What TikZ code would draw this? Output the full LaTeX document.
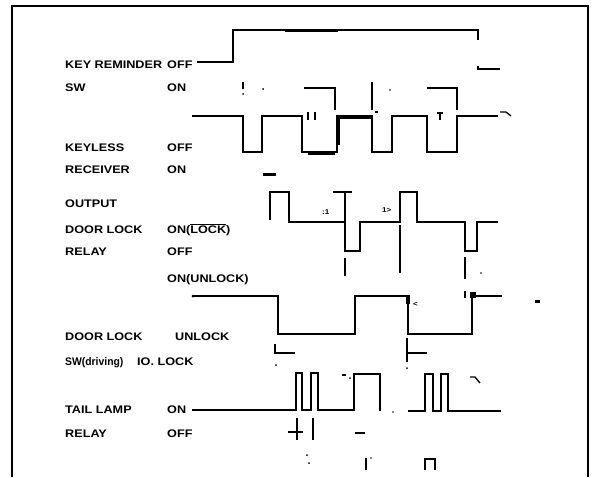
\documentclass[tikz,border=0pt]{standalone}
\usepackage{fontspec}
\newfontfamily\labfamily{Liberation Sans}[FakeStretch=1.15]
\newcommand{\labfont}{\labfamily\bfseries\fontsize{11}{13}\selectfont}
\newcommand{\tinyfont}{\labfamily\bfseries\fontsize{7}{8}\selectfont}
\begin{document}
\begin{tikzpicture}[x=1pt,y=-1pt,
  lab/.style={anchor=base west, inner sep=0pt, font=\labfont},
  tiny/.style={anchor=base west, inner sep=0pt, font=\tinyfont},
  wave/.style={line width=1.4pt, line join=miter},
  heavy/.style={line width=3pt},
  tick/.style={line width=1.3pt},
  frame/.style={line width=2pt}]
\useasboundingbox (0,0) rectangle (593,477);
% frame
\draw[frame] (12,477) -- (12,6) -- (588,6) -- (588,477);

% labels
\node[lab] (kr)  at (65,68)  {KEY REMINDER};
\node[lab] (kro) at (167,68) {OFF};
\node[lab] (sw)  at (65,91)  {SW};
\node[lab] (swo) at (167,91) {ON};
\node[lab] (kl)  at (65,151) {KEYLESS};
\node[lab] (klo) at (167,151){OFF};
\node[lab] (rc)  at (65,173) {RECEIVER};
\node[lab] (rco) at (167,173){ON};
\node[lab] (op)  at (65,207) {OUTPUT};
\node[lab] (dl)  at (65,233) {DOOR LOCK};
\node[lab] (dll) at (167,233){ON(\smash{$\overline{\mbox{\labfont LOCK}}$})};
\node[lab] (rl)  at (65,255) {RELAY};
\node[lab] (rlo) at (167,255){OFF};
\node[lab] (rlu) at (167,282){ON(UNLOCK)};
\node[lab] (ds)  at (65,340) {DOOR LOCK};
\node[lab] (dsu) at (175,340){UNLOCK};
\node[lab] (dsw) at (65,365) {\scalebox{0.82}[1]{SW(driving)}};
\node[lab] (dsl) at (137,365){IO. LOCK};
\node[lab] (tl)  at (65,413) {TAIL LAMP};
\node[lab] (tlo) at (167,413){ON};
\node[lab] (tr)  at (65,437) {RELAY};
\node[lab] (tro) at (167,437){OFF};

% key reminder waveform
\coordinate (k0) at (197,62);
\draw[wave] (k0) -- (233,62) -- (233,30) -- (478,30) -- (478,40);
\draw[heavy] (285,30) -- (338,30);
\draw[wave] (478,66) -- (478,69) -- (500,69);

% SW marks
\draw[tick] (243,82) -- (243,89);
\fill (243,94) circle (1pt);
\fill (263,89) circle (1pt);
\draw[wave] (304,88) -- (335,88) -- (335,110);
\draw[wave] (372,82) -- (372,110);
\fill (390,90) circle (0.9pt);
\draw[wave] (427,88) -- (457,88) -- (457,110);

% keyless receiver waveform
\coordinate (r0) at (192,116);
\draw[wave] (r0) -- (243,116) -- (243,152) -- (262,152) -- (262,116) -- (302,116)
  -- (302,152) -- (337,152) -- (337,116) -- (372,116) -- (372,152) -- (392,152)
  -- (392,116) -- (427,116) -- (427,152) -- (457,152) -- (457,116) -- (498,116);
\draw[heavy] (308,153) -- (335,153);
\draw[heavy] (337,117) -- (372,117);
\draw[heavy] (338,117) -- (338,145);
\draw[tick] (308,112) -- (308,120);
\draw[tick] (315,112) -- (315,120);
\draw[tick] (437,113) -- (443,113);
\draw[tick] (440,113) -- (440,120);
\draw[tick] (500,112) -- (506,112) -- (511,116);
\draw[tick] (375,112) -- (378,112);
\draw[heavy] (263,174) -- (276,174);

% door lock relay waveform
\coordinate (d0) at (270,220);
\draw[wave] (d0) -- (270,192) -- (289,192) -- (289,222) -- (345,222) -- (345,251)
  -- (360,251) -- (360,222) -- (400,222) -- (400,192) -- (417,192) -- (417,222)
  -- (465,222) -- (465,251) -- (477,251) -- (477,222) -- (498,222);
\draw[wave] (333,192) -- (352,192);
\draw[wave] (345,192) -- (345,222);
\node[tiny] at (322,214) {:1};
\node[tiny] at (382,212) {1>};
\draw[wave] (345,258) -- (345,276);
\draw[wave] (400,225) -- (400,273);
\draw[wave] (465,257) -- (465,279);
\fill (481,273) circle (0.9pt);

% door lock sw waveform
\fill (193,296) circle (1.5pt);
\draw[wave] (193,296) -- (278,296) -- (278,334) -- (355,334) -- (355,296) -- (408,296)
  -- (408,334) -- (472,334) -- (472,296) -- (502,296);
\fill (406,295) rectangle (410,304);
\fill (470,292) rectangle (476,298);
\node[tiny] at (413,306) {<};
\draw[tick] (465,291) -- (465,298);
\draw[heavy] (535,301) -- (540,301);
\draw[wave] (275,344) -- (275,353) -- (295,353);
\fill (276,365) circle (1pt);
\draw[wave] (407,338) -- (407,362);
\draw[wave] (407,353) -- (427,353);
\fill (407,368) circle (1pt);

% tail lamp relay waveform
\coordinate (t0) at (192,410);
\draw[wave] (t0) -- (296,410) -- (296,373) -- (302,373) -- (302,410) -- (311,410)
  -- (311,373) -- (318,373) -- (318,410) -- (354,410) -- (354,374) -- (380,374) -- (380,411);
\draw[wave] (408,411) -- (425,411) -- (425,374) -- (433,374) -- (433,411) -- (441,411)
  -- (441,374) -- (448,374) -- (448,411) -- (501,411);
\draw[tick] (342,375) -- (346,375);
\fill (350,378) circle (1pt);
\draw[tick] (470,377) -- (475,377) -- (480,383);
\fill (393,412) circle (0.9pt);
\draw[wave] (288,432) -- (303,432);
\draw[wave] (297,418) -- (297,440);
\draw[wave] (313,418) -- (313,440);
\draw[wave] (355,433) -- (365,433);
% bottom marks
\fill (307,455) circle (1pt);
\fill (309,463) circle (1pt);
\draw[wave] (366,458) -- (366,470);
\fill (371,458) circle (0.9pt);
\draw[wave] (425,470) -- (425,459) -- (435,459) -- (435,470);
\end{tikzpicture}
\end{document}
